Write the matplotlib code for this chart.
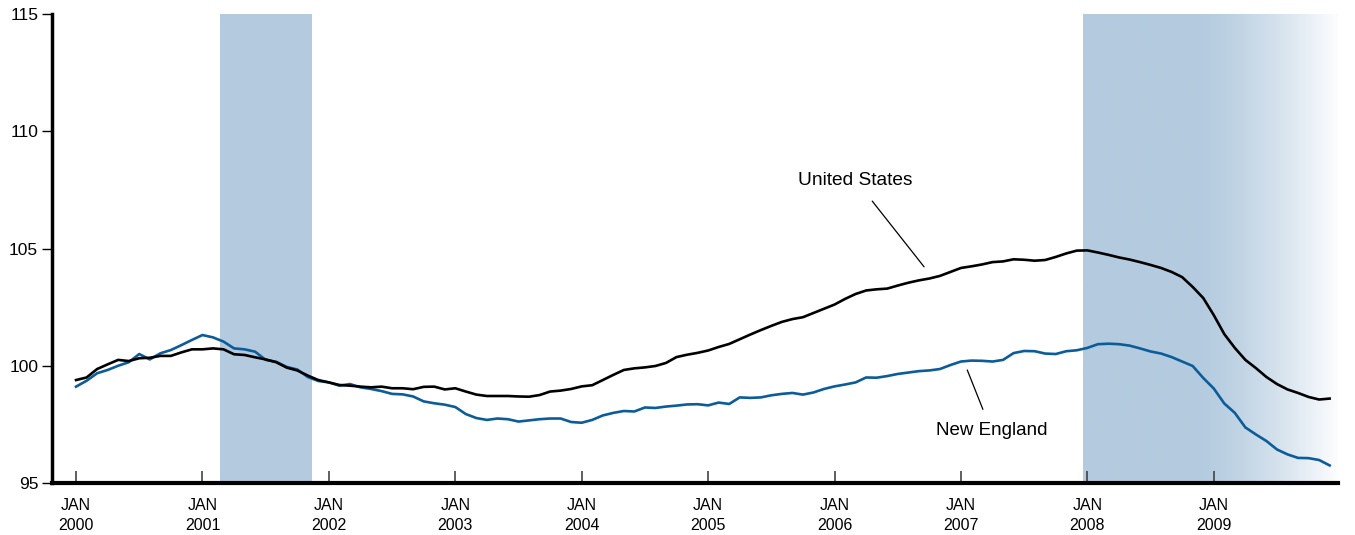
import numpy as np
import matplotlib
matplotlib.use("Agg")
import matplotlib.pyplot as plt

plt.rcParams['font.family'] = ['Liberation Sans', 'DejaVu Sans']

# monthly index values, Jan 2000 - Dec 2009
us = [99.39, 99.50, 99.86, 100.06, 100.25, 100.20, 100.32, 100.34, 100.42, 100.42,
      100.57, 100.70, 100.70, 100.74, 100.70, 100.49, 100.46, 100.36, 100.27, 100.15,
      99.92, 99.80, 99.58, 99.39, 99.29, 99.18, 99.15, 99.11, 99.08, 99.11,
      99.04, 99.04, 99.00, 99.10, 99.11, 98.99, 99.04, 98.90, 98.77, 98.71,
      98.71, 98.71, 98.69, 98.68, 98.75, 98.90, 98.94, 99.01, 99.12, 99.17,
      99.39, 99.61, 99.82, 99.89, 99.93, 99.99, 100.12, 100.37, 100.47, 100.55,
      100.65, 100.80, 100.93, 101.13, 101.33, 101.52, 101.70, 101.87, 101.99, 102.07,
      102.25, 102.43, 102.61, 102.85, 103.06, 103.21, 103.26, 103.29, 103.42, 103.54,
      103.64, 103.72, 103.83, 104.00, 104.17, 104.24, 104.32, 104.42, 104.45, 104.54,
      104.52, 104.48, 104.51, 104.64, 104.79, 104.91, 104.92, 104.83, 104.73, 104.62,
      104.53, 104.42, 104.30, 104.17, 104.00, 103.78, 103.36, 102.89, 102.16, 101.35,
      100.76, 100.25, 99.90, 99.52, 99.22, 98.99, 98.84, 98.67, 98.56, 98.60]

new_england = [99.11, 99.36, 99.68, 99.82, 100.00, 100.15, 100.50, 100.27, 100.53, 100.67,
               100.88, 101.10, 101.31, 101.21, 101.03, 100.74, 100.70, 100.60, 100.25, 100.17,
               99.95, 99.84, 99.52, 99.35, 99.29, 99.15, 99.22, 99.08, 99.01, 98.92,
               98.80, 98.78, 98.69, 98.48, 98.40, 98.34, 98.24, 97.94, 97.77, 97.69,
               97.75, 97.72, 97.62, 97.67, 97.72, 97.75, 97.75, 97.60, 97.57, 97.69,
               97.88, 97.99, 98.07, 98.05, 98.22, 98.20, 98.26, 98.30, 98.35, 98.36,
               98.31, 98.43, 98.37, 98.65, 98.63, 98.65, 98.74, 98.80, 98.84, 98.77,
               98.86, 99.01, 99.12, 99.20, 99.29, 99.50, 99.49, 99.56, 99.65, 99.71,
               99.77, 99.80, 99.86, 100.03, 100.18, 100.22, 100.21, 100.18, 100.25, 100.54,
               100.63, 100.62, 100.52, 100.50, 100.62, 100.66, 100.76, 100.92, 100.94, 100.92,
               100.86, 100.74, 100.61, 100.52, 100.37, 100.18, 99.99, 99.48, 99.03, 98.39,
               97.99, 97.37, 97.07, 96.79, 96.43, 96.22, 96.07, 96.06, 95.98, 95.75]

years = list(range(2000, 2010))
# recessions, in months since Jan 2000
recession_2001 = (13.7, 22.4)
recession_2008 = (95.6, 119.8)

months = np.arange(len(us))
shade = '#b4cbdf'

fig = plt.figure(figsize=(13.55, 5.35), dpi=100)
ax = fig.add_axes([0.0384, 0.0972, 0.9491, 0.8766])

ax.axvspan(*recession_2001, color=shade, lw=0, zorder=0)

# second recession fades out to the right
grad_x = np.linspace(recession_2008[0], recession_2008[1], 400)
fade_start = 106.5
t = np.clip((grad_x - fade_start) / (grad_x[-1] - fade_start), 0, 1)
alpha = 1 - 0.97 * t ** 1.4
base = np.array(matplotlib.colors.to_rgb(shade))
rgb = 1 - alpha[:, None] * (1 - base[None, :])
ax.imshow(rgb[None, :, :], extent=(recession_2008[0], recession_2008[1], 95, 115),
          aspect='auto', zorder=0, interpolation='bilinear')

ax.plot(months, new_england, color='#0b5c99', lw=1.9, zorder=3)
ax.plot(months, us, color='black', lw=1.9, zorder=4)

ax.annotate('United States', xy=(80.5, 104.22), xytext=(74.0, 107.92),
            ha='center', va='center', fontsize=13.8,
            arrowprops=dict(arrowstyle='-', color='black', lw=0.9, shrinkA=9, shrinkB=0))
ax.annotate('New England', xy=(84.6, 99.82), xytext=(86.9, 97.22),
            ha='center', va='center', fontsize=13.5,
            arrowprops=dict(arrowstyle='-', color='black', lw=0.9, shrinkA=8, shrinkB=0))

ax.set_xlim(-2.28, recession_2008[1])
ax.set_ylim(95, 115)

ax.set_yticks([95, 100, 105, 110, 115])
ax.tick_params(axis='y', direction='out', length=7, width=1, labelsize=12.5, pad=3)

ax.set_xticks([12 * i for i in range(len(years))])
ax.set_xticklabels(['JAN\n%d' % y for y in years], fontsize=11.5, linespacing=1.4)
ax.tick_params(axis='x', direction='in', length=9, width=1.2, color='#444444', pad=11)

for side in ['top', 'right']:
    ax.spines[side].set_visible(False)
ax.spines['left'].set_linewidth(2.5)
ax.spines['bottom'].set_linewidth(3)

fig.savefig('out.png', dpi=100)
